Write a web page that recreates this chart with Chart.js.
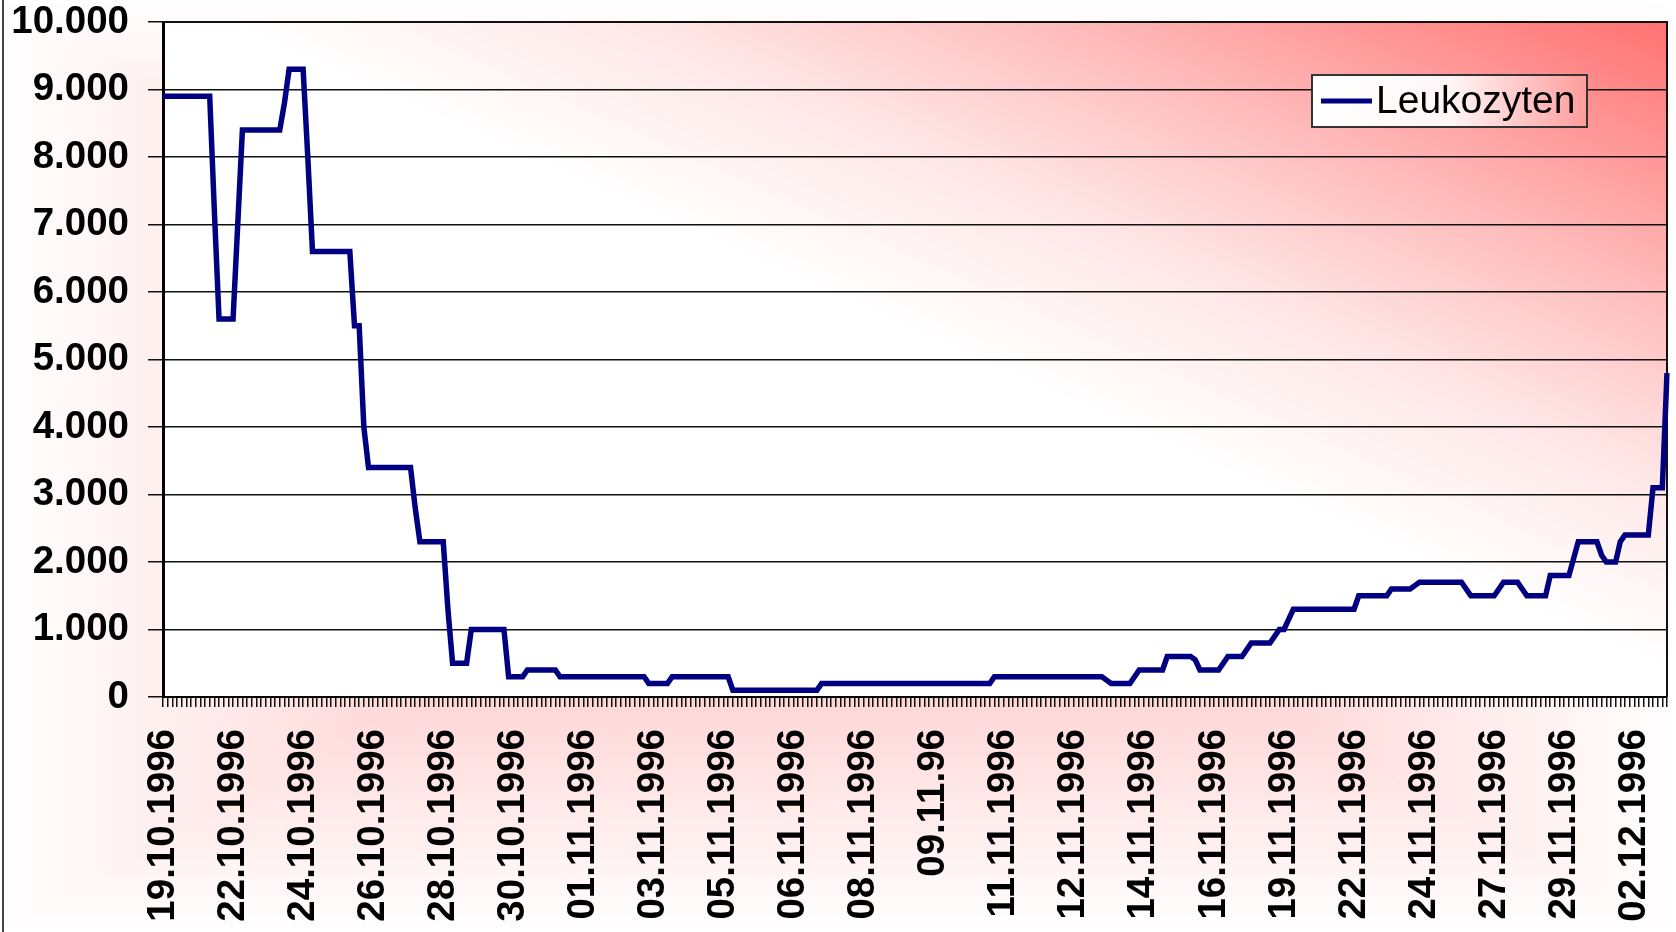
<!DOCTYPE html>
<html>
<head>
<meta charset="utf-8">
<title>Leukozyten</title>
<script src="https://cdn.jsdelivr.net/npm/chart.js@4.4.1/dist/chart.umd.min.js"></script>
<style>
  html, body { margin: 0; padding: 0; background: #fff; }
  #wrap { width: 1676px; height: 932px; }
</style>
</head>
<body>
<div id="wrap"><canvas id="leukoChart" width="1676" height="932"></canvas></div>
<script>
var seriesName = 'Leukozyten';

// one label every 15 measurements
var labelEvery = 15;
var dateLabels = ['19.10.1996', '22.10.1996', '24.10.1996', '26.10.1996', '28.10.1996', '30.10.1996',
    '01.11.1996', '03.11.1996', '05.11.1996', '06.11.1996', '08.11.1996', '09.11.96',
    '11.11.1996', '12.11.1996', '14.11.1996', '16.11.1996', '19.11.1996', '22.11.1996',
    '24.11.1996', '27.11.1996', '29.11.1996', '02.12.1996'];

// values, one row per label step
var leukozyten = [
    8900, 8900, 8900, 8900, 8900, 8900, 8900, 8900, 8900, 8900, 8900, 7200, 5600, 5600, 5600,
    5600, 7000, 8400, 8400, 8400, 8400, 8400, 8400, 8400, 8400, 8400, 8800, 9300, 9300, 9300,
    9300, 8000, 6600, 6600, 6600, 6600, 6600, 6600, 6600, 6600, 6600, 5500, 5500, 4000, 3400,
    3400, 3400, 3400, 3400, 3400, 3400, 3400, 3400, 3400, 2800, 2300, 2300, 2300, 2300, 2300,
    2300, 1300, 500, 500, 500, 500, 1000, 1000, 1000, 1000, 1000, 1000, 1000, 1000, 300,
    300, 300, 300, 400, 400, 400, 400, 400, 400, 400, 300, 300, 300, 300, 300,
    300, 300, 300, 300, 300, 300, 300, 300, 300, 300, 300, 300, 300, 300, 200,
    200, 200, 200, 200, 300, 300, 300, 300, 300, 300, 300, 300, 300, 300, 300,
    300, 300, 100, 100, 100, 100, 100, 100, 100, 100, 100, 100, 100, 100, 100,
    100, 100, 100, 100, 100, 100, 200, 200, 200, 200, 200, 200, 200, 200, 200,
    200, 200, 200, 200, 200, 200, 200, 200, 200, 200, 200, 200, 200, 200, 200,
    200, 200, 200, 200, 200, 200, 200, 200, 200, 200, 200, 200, 200, 300, 300,
    300, 300, 300, 300, 300, 300, 300, 300, 300, 300, 300, 300, 300, 300, 300,
    300, 300, 300, 300, 300, 300, 300, 250, 200, 200, 200, 200, 200, 300, 400,
    400, 400, 400, 400, 400, 600, 600, 600, 600, 600, 600, 550, 400, 400, 400,
    400, 400, 500, 600, 600, 600, 600, 700, 800, 800, 800, 800, 800, 900, 1000,
    1000, 1150, 1300, 1300, 1300, 1300, 1300, 1300, 1300, 1300, 1300, 1300, 1300, 1300, 1300,
    1300, 1500, 1500, 1500, 1500, 1500, 1500, 1500, 1600, 1600, 1600, 1600, 1600, 1650, 1700,
    1700, 1700, 1700, 1700, 1700, 1700, 1700, 1700, 1700, 1600, 1500, 1500, 1500, 1500, 1500,
    1500, 1600, 1700, 1700, 1700, 1700, 1600, 1500, 1500, 1500, 1500, 1500, 1800, 1800, 1800,
    1800, 1800, 2050, 2300, 2300, 2300, 2300, 2300, 2100, 2000, 2000, 2000, 2300, 2400, 2400,
    2400, 2400, 2400, 2400, 3100, 3100, 3100, 4800
];

var yMin = 0;
var yMax = 10000;
var yStep = 1000;

var fontFamily = "'Liberation Sans', Arial, sans-serif";

var categories = leukozyten.map(function(v, i){
    return i % labelEvery === 0 ? dateLabels[i / labelEvery] : '';
});

function formatThousands(v){
    return String(v).replace(/\B(?=(\d{3})+(?!\d))/g, '.');
}

// pink "from center" fill behind everything, diagonal fill in the plot area
var backgroundPlugin = {
    id: 'backgroundFill',
    beforeDraw: function(chart){
        var ctx = chart.ctx;
        var w = chart.width, h = chart.height;
        var cx = w / 2, cy = h / 2;
        var centerColor = '#ffaeae';
        var sides = [
            [[0, 0], [w, 0], [cx, 0]],
            [[w, 0], [w, h], [w, cy]],
            [[w, h], [0, h], [cx, h]],
            [[0, h], [0, 0], [0, cy]]
        ];
        ctx.save();
        sides.forEach(function(s){
            var g = ctx.createLinearGradient(cx, cy, s[2][0], s[2][1]);
            g.addColorStop(0, centerColor);
            g.addColorStop(1, '#ffffff');
            ctx.beginPath();
            ctx.moveTo(cx, cy);
            ctx.lineTo(s[0][0], s[0][1]);
            ctx.lineTo(s[1][0], s[1][1]);
            ctx.closePath();
            ctx.fillStyle = g;
            ctx.fill();
        });

        var a = chart.chartArea;
        ctx.translate(a.left, a.top);
        ctx.scale(a.right - a.left, a.bottom - a.top);
        var pg = ctx.createLinearGradient(0, 1, 1, 0);
        pg.addColorStop(0, '#ffffff');
        pg.addColorStop(0.52, '#ffffff');
        pg.addColorStop(0.66, '#ffe6e6');
        pg.addColorStop(0.79, '#ffbdbd');
        pg.addColorStop(0.9, '#ff9595');
        pg.addColorStop(1, '#ff7272');
        ctx.fillStyle = pg;
        ctx.fillRect(0, 0, 1, 1);
        ctx.restore();

        // outer frame, only the left edge is in view
        ctx.save();
        ctx.strokeStyle = '#444';
        ctx.lineWidth = 2;
        ctx.strokeRect(3, -10, w + 20, h + 20);
        ctx.restore();
    },
    beforeDatasetsDraw: function(chart){
        var a = chart.chartArea;
        var ctx = chart.ctx;
        ctx.save();
        ctx.strokeStyle = '#111';
        ctx.lineWidth = 2;
        ctx.beginPath();
        ctx.moveTo(a.left, a.top);
        ctx.lineTo(a.right, a.top);
        ctx.lineTo(a.right, a.bottom);
        ctx.stroke();
        ctx.restore();
    }
};

var legendBoxPlugin = {
    id: 'legendBox',
    afterDatasetsDraw: function(chart){
        var a = chart.chartArea;
        var ctx = chart.ctx;
        var x = a.right - 355, y = a.top + 53, bw = 275, bh = 52;
        ctx.save();
        var g = ctx.createLinearGradient(x, y, x + bw, y);
        g.addColorStop(0, '#ffffff');
        g.addColorStop(0.5, '#fff6f6');
        g.addColorStop(1, '#ff9c9c');
        ctx.fillStyle = g;
        ctx.fillRect(x, y, bw, bh);
        ctx.strokeStyle = '#333';
        ctx.lineWidth = 2;
        ctx.strokeRect(x, y, bw, bh);
        ctx.strokeStyle = '#000080';
        ctx.lineWidth = 5;
        ctx.beginPath();
        ctx.moveTo(x + 9, y + bh / 2);
        ctx.lineTo(x + 60, y + bh / 2);
        ctx.stroke();
        ctx.fillStyle = '#000';
        ctx.font = '39px ' + fontFamily;
        ctx.textBaseline = 'middle';
        ctx.textAlign = 'left';
        ctx.fillText(seriesName, x + 64, y + bh / 2 + 1);
        ctx.restore();
    }
};

var ctx = document.getElementById('leukoChart').getContext('2d');
var leukoChart = new Chart(ctx, {
    type: 'line',
    data: {
        labels: categories,
        datasets: [{
            label: seriesName,
            data: leukozyten,
            borderColor: '#000080',
            borderWidth: 5.5,
            pointRadius: 0,
            tension: 0,
            fill: false,
            borderJoinStyle: 'miter'
        }]
    },
    options: {
        responsive: false,
        animation: false,
        devicePixelRatio: 1,
        layout: {
            padding: { top: 22, right: 9, left: 0, bottom: 0 }
        },
        plugins: {
            legend: { display: false },
            tooltip: { enabled: false }
        },
        scales: {
            x: {
                type: 'category',
                offset: false,
                grid: {
                    drawOnChartArea: false,
                    drawTicks: true,
                    tickLength: 10,
                    color: '#111',
                    lineWidth: 1.5
                },
                border: { display: true, color: '#000', width: 2 },
                ticks: {
                    autoSkip: false,
                    maxRotation: 90,
                    minRotation: 90,
                    padding: 22,
                    color: '#000',
                    font: { family: fontFamily, size: 38.5, weight: 'bold' }
                },
                afterFit: function(scale){
                    scale.height = 235;
                    scale.paddingLeft = 0;
                    scale.paddingRight = 0;
                }
            },
            y: {
                min: yMin,
                max: yMax,
                grid: {
                    color: '#111',
                    lineWidth: 1.5,
                    drawTicks: true,
                    tickLength: 15
                },
                border: { display: true, color: '#000', width: 3 },
                ticks: {
                    stepSize: yStep,
                    padding: 19,
                    color: '#000',
                    font: { family: fontFamily, size: 38.5, weight: 'bold' },
                    callback: function(value){ return formatThousands(value); }
                },
                afterFit: function(scale){
                    scale.width = 163;
                    scale.paddingTop = 0;
                    scale.paddingBottom = 0;
                }
            }
        }
    },
    plugins: [backgroundPlugin, legendBoxPlugin]
});
</script>
</body>
</html>
